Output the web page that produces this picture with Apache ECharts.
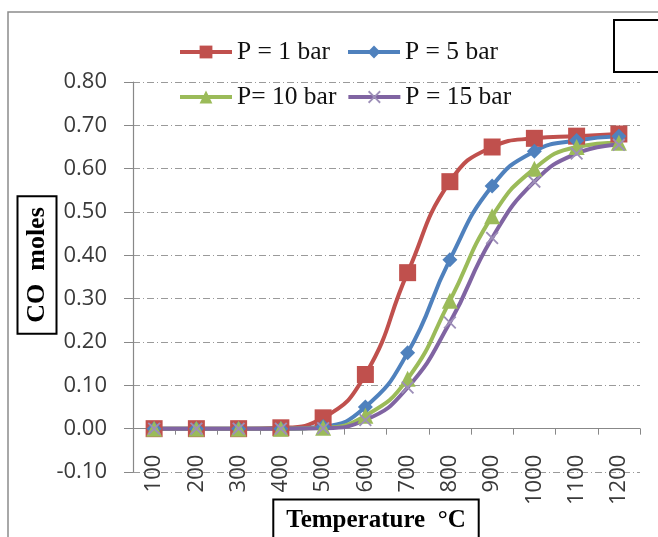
<!DOCTYPE html>
<html>
<head>
<meta charset="utf-8">
<script src="https://cdn.jsdelivr.net/npm/echarts@6/dist/echarts.min.js"></script>
<style>
  html, body { margin: 0; padding: 0; background: #fff; }
  #chart { width: 658px; height: 537px; }
</style>
</head>
<body>
<div id="chart"></div>
<script>
// Temperature categories (°C)
const temperatures = ['100', '200', '300', '400', '500', '600', '700', '800', '900', '1000', '1100', '1200'];

// CO moles at each pressure
const coP1  = [0.000, 0.000, 0.000, 0.002, 0.025, 0.125, 0.360, 0.570, 0.650, 0.670, 0.675, 0.680];
const coP5  = [0.000, 0.000, 0.000, 0.000, 0.005, 0.050, 0.175, 0.390, 0.560, 0.640, 0.665, 0.675];
const coP10 = [0.000, 0.000, 0.000, 0.000, 0.002, 0.030, 0.115, 0.295, 0.490, 0.600, 0.650, 0.660];
const coP15 = [0.000, 0.000, 0.000, 0.000, 0.001, 0.020, 0.095, 0.245, 0.440, 0.570, 0.635, 0.655];

const seriesNames = ['P = 1 bar', 'P = 5 bar', 'P= 10 bar', 'P = 15 bar'];
const yMin = -0.1, yMax = 0.8, yStep = 0.1;

const crossMark = 'path://M0,2L2,0L10,8L18,0L20,2L12,10L20,18L18,20L10,12L2,20L0,18L8,10Z';

const chart = echarts.init(document.getElementById('chart'), null, { renderer: 'canvas' });

const serif = '"Liberation Serif", "Times New Roman", serif';
const sans = '"Open Sans", "Liberation Sans", sans-serif';
const gridDash = [7, 3, 1, 3];

// plot box
const gridTop = 82, gridBottom = 65, chartH = 537;
const plotH = chartH - gridTop - gridBottom;
// shift the category axis up so it sits on y = 0
const zeroOffset = -plotH * (0 - yMin) / (yMax - yMin);

const legendText = { fontFamily: serif, fontSize: 25.5, color: '#111' };

function makeSeries(name, data, color, symbol, symbolSize, markerColor) {
  return {
    name: name,
    type: 'line',
    data: data,
    smooth: 0.5,
    symbol: symbol,
    symbolSize: symbolSize,
    showAllSymbol: true,
    lineStyle: { color: color, width: 4 },
    itemStyle: { color: markerColor || color, borderWidth: 0 },
    emphasis: { disabled: true }
  };
}

chart.setOption({
  animation: false,
  backgroundColor: '#fff',
  graphic: [
    { type: 'rect', shape: { x: 8, y: 12, width: 700, height: 600 },
      style: { fill: 'none', stroke: '#8c8c8c', lineWidth: 1.5 }, z: -10 },
    { type: 'rect', shape: { x: 614, y: 20, width: 80, height: 52 },
      style: { fill: '#fff', stroke: '#000', lineWidth: 2 } },
    { type: 'text', x: 37, y: 265, rotation: Math.PI / 2,
      style: {
        text: 'CO  moles', font: 'bold 26px ' + serif, fill: '#000',
        align: 'center', verticalAlign: 'middle',
        textAlign: 'center', textVerticalAlign: 'middle',
        padding: [6, 10, 5, 10], borderColor: '#000', borderWidth: 2, backgroundColor: '#fff'
      } },
    { type: 'text', x: 376, y: 521,
      style: {
        text: 'Temperature  °C', font: 'bold 25px ' + serif, fill: '#000',
        align: 'center', verticalAlign: 'middle',
        textAlign: 'center', textVerticalAlign: 'middle',
        padding: [8, 12, 8, 12], borderColor: '#000', borderWidth: 2, backgroundColor: '#fff'
      } }
  ],
  legend: [
    {
      data: [seriesNames[0], seriesNames[1]],
      left: 173, top: 34, itemWidth: 52, itemHeight: 16, itemGap: 16,
      lineStyle: { width: 4 },
      textStyle: legendText
    },
    {
      data: [seriesNames[2], seriesNames[3]],
      left: 173, top: 79, itemWidth: 52, itemHeight: 16, itemGap: 10,
      lineStyle: { width: 4 },
      textStyle: legendText
    }
  ],
  grid: { left: 133, right: 18, top: gridTop, bottom: gridBottom, containLabel: false, outerBoundsMode: 'none' },
  xAxis: {
    type: 'category',
    data: temperatures,
    boundaryGap: true,
    offset: zeroOffset,
    axisLine: { onZero: false, lineStyle: { color: '#888', width: 1.2 } },
    axisTick: { show: true, length: 6, inside: false, lineStyle: { color: '#888' } },
    axisLabel: { rotate: 90, margin: 26, fontFamily: sans, fontSize: 22, color: '#3a3a3a', interval: 0 },
    splitLine: { show: false }
  },
  yAxis: {
    type: 'value',
    min: yMin, max: yMax, interval: yStep,
    axisLine: { show: true, lineStyle: { color: '#888', width: 1.2 } },
    axisTick: { show: true, length: 9, lineStyle: { color: '#888' } },
    axisLabel: {
      margin: 26, fontFamily: sans, fontSize: 22, color: '#3a3a3a',
      formatter: v => v.toFixed(2)
    },
    splitLine: { show: true, lineStyle: { color: '#9a9a9a', width: 1, type: gridDash } }
  },
  series: [
    makeSeries(seriesNames[0], coP1, '#C0504D', 'rect', 17),
    makeSeries(seriesNames[1], coP5, '#4F81BD', 'diamond', 15),
    makeSeries(seriesNames[2], coP10, '#9BBB59', 'triangle', 16),
    makeSeries(seriesNames[3], coP15, '#8064A2', crossMark, 13, '#9d8fb8')
  ]
});
</script>
</body>
</html>
